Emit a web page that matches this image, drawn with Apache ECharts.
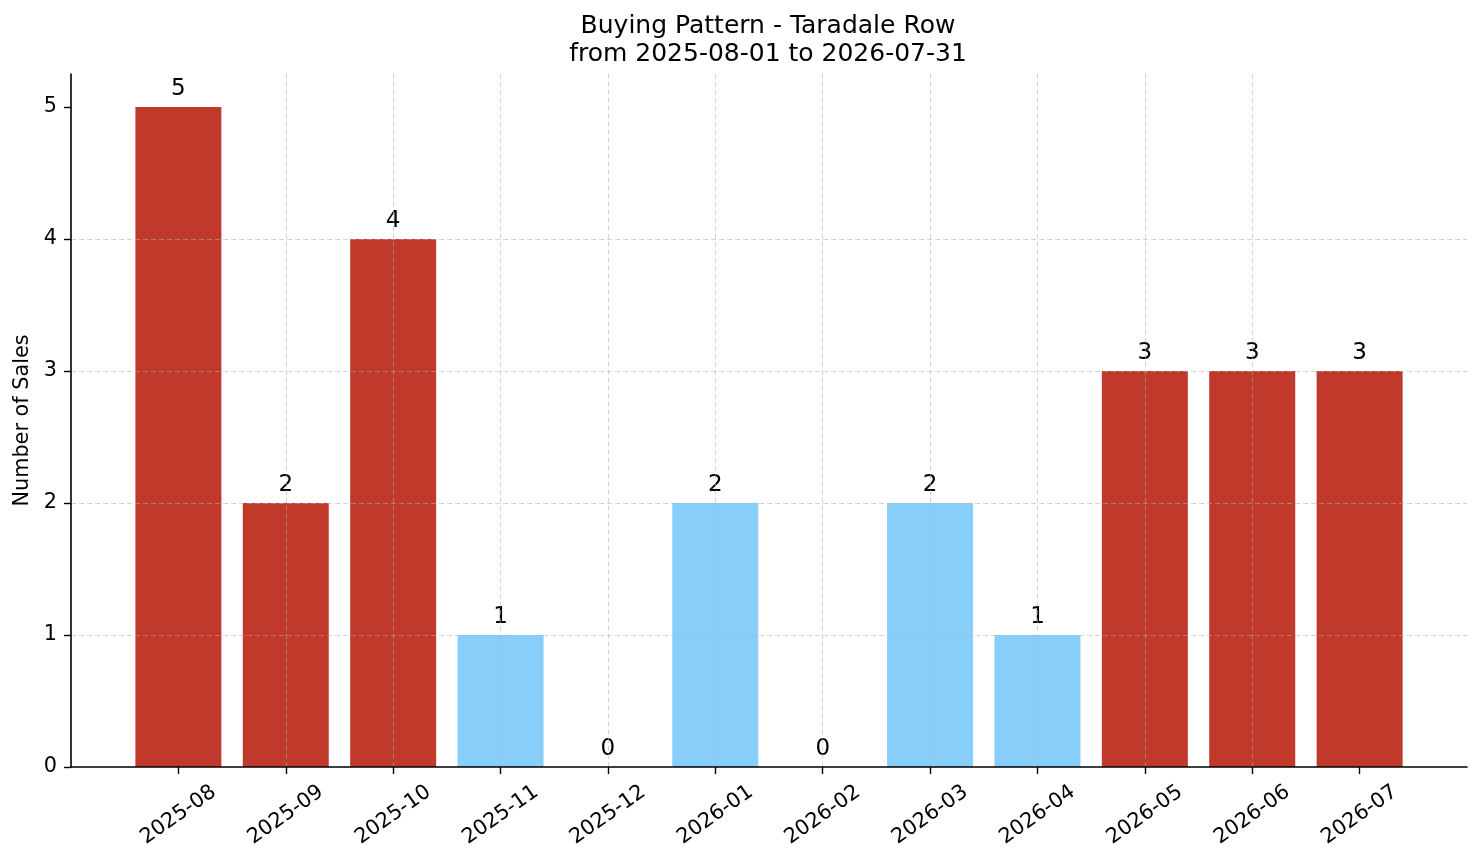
<!DOCTYPE html>
<html>
<head>
<meta charset="utf-8">
<script src="https://cdn.jsdelivr.net/npm/echarts@6/dist/echarts.min.js"></script>
<style>
  html, body { margin: 0; padding: 0; background: #fff; }
  #chart { width: 1481px; height: 863px; }
</style>
</head>
<body>
<div id="chart"></div>
<script>
var months = ['2025-08', '2025-09', '2025-10', '2025-11', '2025-12', '2026-01',
              '2026-02', '2026-03', '2026-04', '2026-05', '2026-06', '2026-07'];
var sales = [5, 2, 4, 1, 0, 2, 0, 2, 1, 3, 3, 3];
// 1 = peak month (drawn red), 0 = quiet month (drawn blue)
var peak = [1, 1, 1, 0, 0, 0, 0, 0, 0, 1, 1, 1];
var yTicks = [0, 1, 2, 3, 4, 5];

var FONT = 'DejaVu Sans';
var gridLine = { show: true, showMinLine: false, showMaxLine: false,
                 lineStyle: { color: 'rgba(176,176,176,0.55)', width: 1, type: [5, 3] } };

var monthIdx = months.map(function (m, i) { return i; });

var barData = sales.map(function (v, i) {
    return {
        value: [i, v],
        itemStyle: { color: peak[i] ? '#c0392b' : '#87cefa' }
    };
});

var chart = echarts.init(document.getElementById('chart'));
chart.setOption({
    animation: false,
    textStyle: { fontFamily: FONT },
    title: {
        text: 'Buying Pattern - Taradale Row\nfrom 2025-08-01 to 2026-07-31',
        left: 768,
        textAlign: 'center',
        top: 12,
        padding: 0,
        textStyle: {
            fontFamily: FONT,
            fontWeight: 'normal',
            fontSize: 25,
            lineHeight: 28,
            color: '#000'
        }
    },
    grid: {
        left: 71,
        right: 14,
        top: 74,
        bottom: 96,
        containLabel: false
    },
    xAxis: {
        type: 'value',
        min: -1,
        max: 12,
        interval: 1,
        z: 3,
        axisLine: { show: true, onZero: false, lineStyle: { color: '#000', width: 1.6 } },
        axisTick: {
            show: true,
            length: 7,
            customValues: monthIdx,
            lineStyle: { color: '#000', width: 1.4 }
        },
        axisLabel: {
            customValues: monthIdx,
            rotate: 35,
            align: 'center',
            verticalAlign: 'middle',
            margin: 48,
            fontFamily: FONT,
            fontSize: 20.8,
            color: '#000',
            formatter: function (v) { return months[v] || ''; }
        },
        splitLine: gridLine
    },
    yAxis: {
        type: 'value',
        min: 0,
        max: 5.25,
        interval: 1,
        z: 3,
        name: 'Number of Sales',
        nameLocation: 'middle',
        nameRotate: 90,
        nameGap: 37,
        nameTextStyle: { fontFamily: FONT, fontSize: 20.8, color: '#000' },
        axisLine: { show: true, onZero: false, lineStyle: { color: '#000', width: 1.6 } },
        axisTick: {
            show: true,
            length: 7,
            customValues: yTicks,
            lineStyle: { color: '#000', width: 1.4 }
        },
        axisLabel: {
            customValues: yTicks,
            margin: 14,
            fontFamily: FONT,
            fontSize: 20.8,
            color: '#000'
        },
        splitLine: gridLine
    },
    series: [
        {
            name: 'Sales',
            type: 'bar',
            barWidth: 86,
            data: barData,
            label: {
                show: true,
                position: 'top',
                distance: 6,
                fontFamily: FONT,
                fontSize: 23,
                color: '#000',
                formatter: function (p) { return p.value[1]; }
            }
        }
    ]
});
</script>
</body>
</html>
